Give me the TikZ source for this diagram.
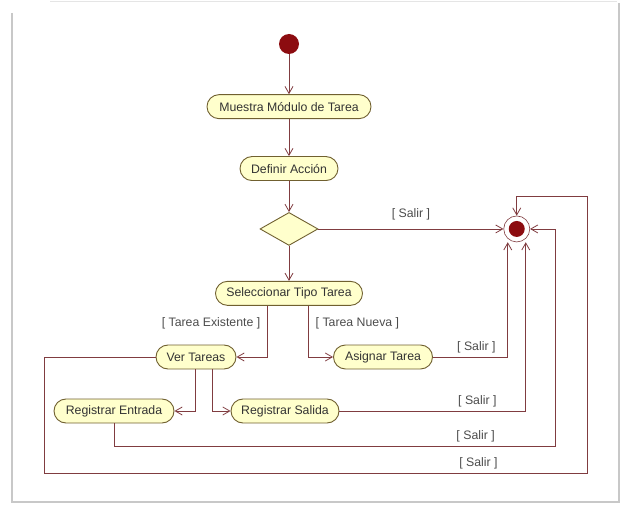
\documentclass[tikz,border=0pt]{standalone}
\usepackage{fontspec}
\setmainfont{Liberation Sans}
\usetikzlibrary{positioning,shapes.geometric,arrows.meta}
\definecolor{nodefill}{RGB}{255,255,204}
\definecolor{nodeline}{RGB}{112,96,48}
\definecolor{flowred}{RGB}{128,60,64}
\definecolor{dotred}{RGB}{140,12,16}
\definecolor{framegray}{RGB}{200,200,200}

\begin{document}
\begin{tikzpicture}[x=1pt, y=-1pt,
  every node/.style={font=\fontsize{12.3}{14}\selectfont, text=black!80},
  startnode/.style={circle, fill=dotred, minimum size=20pt, inner sep=0pt},
  endnode/.style={circle, draw=flowred, fill=white, minimum size=26pt, inner sep=0pt, line width=0.6pt,
                  path picture={\fill[dotred] (path picture bounding box.center) circle (8pt);}},
  act/.style={rectangle, draw=nodeline, fill=nodefill, rounded corners=12pt, line width=0.9pt,
              minimum height=24pt, inner sep=0pt, align=center},
  choice/.style={diamond, draw=nodeline, fill=nodefill, line width=0.9pt,
                 minimum width=58pt, minimum height=33pt, inner sep=0pt},
  flow/.style={-{Straight Barb[length=7pt,width=8pt]}, line width=0.8pt, color=flowred},
  guard/.style={font=\fontsize{12.3}{14}\selectfont, text=black!70}
]
  \useasboundingbox (0,0) rectangle (627,505);
  % window frame
  \draw[framegray, line width=2.5pt] (12,13) -- (12,502) -- (619,502) -- (619,3);
  \draw[black!10, line width=1pt] (50,2) -- (617,2);

  \node[startnode] (s) at (289,44) {};
  \node[act, minimum width=164pt, below=40pt of s] (a1) {Muestra Módulo de Tarea};
  \node[act, minimum width=98pt, below=37pt of a1] (a2) {Definir Acción};
  \node[choice, below=31pt of a2] (d) {};
  \node[endnode, right=185pt of d] (e) {};
  \node[act, minimum width=147pt, below=35pt of d] (a3) {Seleccionar Tipo Tarea};
  \node[act, minimum width=80pt] (a4) at (196,357) {Ver Tareas};
  \node[act, minimum width=99pt] (a5) at (383,357) {Asignar Tarea};
  \node[act, minimum width=120pt] (a6) at (114,411) {Registrar Entrada};
  \node[act, minimum width=108pt] (a7) at (285,411) {Registrar Salida};
  \coordinate (c1) at (44,473);
  \coordinate (c2) at (587,196);
  \coordinate (c3) at (555,446);

  \draw[flow] (s) -- (a1);
  \draw[flow] (a1) -- (a2);
  \draw[flow] (a2) -- (d);
  \draw[flow] (d) -- (a3);
  \draw[flow] (d) -- node[guard, above=5pt]{[ Salir ]} (e);
  \draw[flow] ([xshift=-22pt]a3.south) |- node[guard, pos=0.17, left=3pt]{[ Tarea Existente ]} (a4);
  \draw[flow] ([xshift=19pt]a3.south) |- node[guard, pos=0.17, right=4pt]{[ Tarea Nueva ]} (a5);
  \draw[flow] ([xshift=-1pt]a4.south) |- (a6);
  \draw[flow] ([xshift=16pt]a4.south) |- (a7);
  \draw[flow] (a5) -| node[guard, pos=0.29, above]{[ Salir ]} ([xshift=-9pt]e.south);
  \draw[flow] (a7) -| node[guard, pos=0.37, above]{[ Salir ]} ([xshift=9pt]e.south);
  \draw[flow] (a6) |- node[guard, pos=0.91, above]{[ Salir ]} (c3) |- (e);
  \draw[flow] (a4) -| (c1) -| node[guard, pos=0.4, above]{[ Salir ]} (c2) -| (e);
\end{tikzpicture}
\end{document}
